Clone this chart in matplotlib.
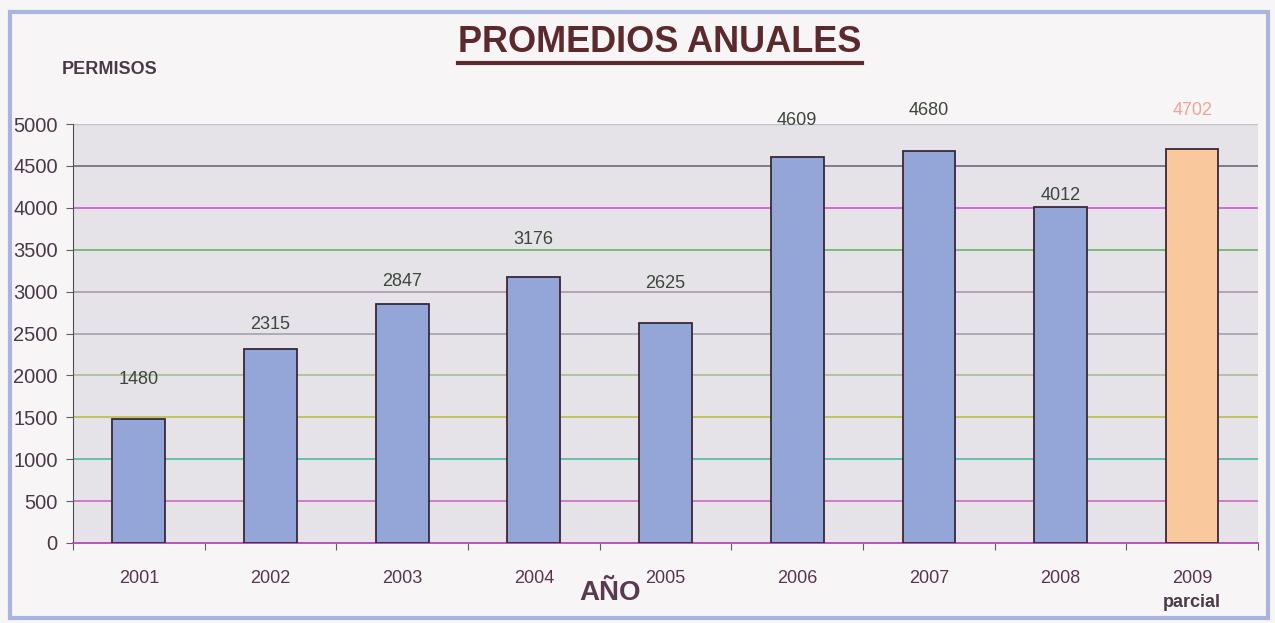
import matplotlib.pyplot as plt
from matplotlib.patches import Rectangle
from matplotlib.lines import Line2D

# Datos
years = ['2001', '2002', '2003', '2004', '2005', '2006', '2007', '2008', '2009']
permisos = [1480, 2315, 2847, 3176, 2625, 4609, 4680, 4012, 4702]
bar_colors = ['#94a6d8'] * 8 + ['#f9c89c']
label_colors = ['#3c463c'] * 8 + ['#f2a394']
# desplazamiento vertical (px) del centro de cada etiqueta sobre la barra
label_offsets = [39, 25, 23, 37, 40, 36, 40, 11, 38]

grid_values = [500, 1000, 1500, 2000, 2500, 3000, 3500, 4000, 4500]
grid_colors = ['#c860c0', '#40b8a0', '#b8b848', '#a8b890', '#9c9cac',
               '#a890a8', '#60b060', '#d048d0', '#606070']

fig = plt.figure(figsize=(12.75, 6.23), dpi=100)
fig.patch.set_facecolor('#f8f5f6')

# marco azul exterior
fig.add_artist(Rectangle((10 / 1275, 5 / 623), 1258 / 1275, 606 / 623,
                         transform=fig.transFigure, fill=False,
                         edgecolor='#a9b5e0', linewidth=3))

ax = fig.add_axes([73 / 1275, 80 / 623, 1185 / 1275, 419 / 623])
ax.set_facecolor('#e6e3e8')

x = range(len(years))
ax.bar(x, permisos, width=0.4, color=bar_colors, edgecolor='#3a2838',
       linewidth=1.3, zorder=3)

for v, c in zip(grid_values, grid_colors):
    ax.axhline(v, color=c, linewidth=1.1, zorder=1)
ax.axhline(5000, color='#c4c0c8', linewidth=1.0, zorder=1)

for i, v in enumerate(permisos):
    ax.annotate(str(v), (i, v), xytext=(0, label_offsets[i]),
                textcoords='offset pixels', ha='center', va='center',
                fontsize=13, color=label_colors[i], family='Liberation Sans',
                annotation_clip=False)

ax.set_xlim(-0.5, len(years) - 0.5)
ax.set_ylim(0, 5000)
ax.set_yticks(range(0, 5001, 500))
ax.set_yticklabels([str(v) for v in range(0, 5001, 500)],
                   family='Liberation Sans', fontsize=14.5, color='#4a3a48')
ax.set_xticks([i + 0.5 for i in range(len(years) - 1)] + [-0.5, len(years) - 0.5])
ax.set_xticklabels([])
ax.tick_params(axis='x', length=5, color='#606060', direction='out')
ax.tick_params(axis='y', length=5, color='#606060', direction='out', pad=6)

for i, y in enumerate(years):
    ax.text(i, -0.085, y, transform=ax.get_xaxis_transform(), ha='center',
            va='center', fontsize=13, color='#5a3450', family='Liberation Sans')
ax.text(len(years) - 1, -0.143, 'parcial', transform=ax.get_xaxis_transform(),
        ha='center', va='center', fontsize=13, fontweight='bold',
        color='#4a3a48', family='Liberation Sans')

ax.spines['top'].set_visible(False)
ax.spines['right'].set_visible(False)
ax.spines['left'].set_color('#505058')
ax.spines['bottom'].set_color('#c040c0')
ax.spines['bottom'].set_linewidth(1.3)

fig.text(610 / 1275, 1 - 593 / 623, 'AÑO', ha='center', va='center',
         fontsize=20, fontweight='bold', color='#5a3a50', family='Liberation Sans')
fig.text(62 / 1275, 1 - 70 / 623, 'PERMISOS', ha='left', va='center',
         fontsize=13, fontweight='bold', color='#4a3a48', family='Liberation Sans')

title = fig.text(660 / 1275, 1 - 43 / 623, 'PROMEDIOS ANUALES', ha='center',
                 va='center', fontsize=26, fontweight='bold', color='#5c2a2c',
                 family='Liberation Sans')
# subrayado del titulo
fig.canvas.draw()
bb = title.get_window_extent().transformed(fig.transFigure.inverted())
uy = bb.y0 - 2 / 623
fig.add_artist(Line2D([bb.x0, bb.x1], [uy, uy], transform=fig.transFigure,
                      color='#5c2a2c', linewidth=3))

fig.savefig('out.png', dpi=100, facecolor=fig.get_facecolor())
